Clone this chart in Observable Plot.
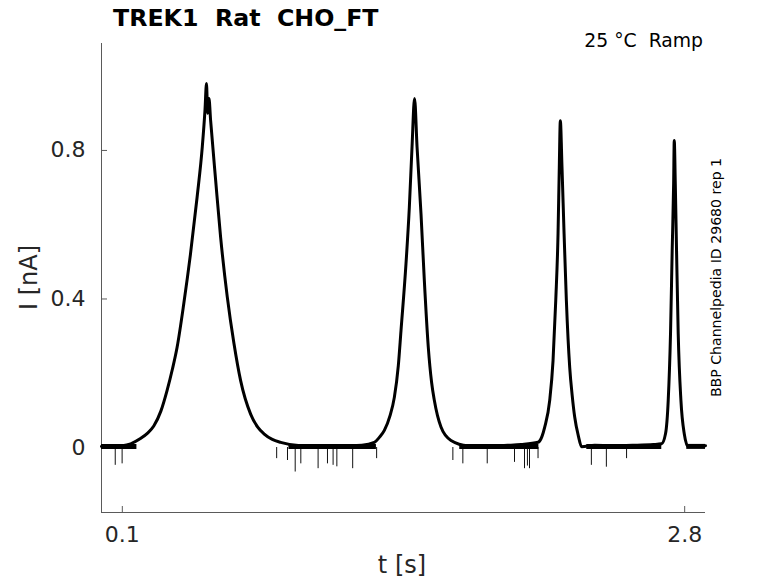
<!DOCTYPE html>
<html>
<head>
<meta charset="utf-8">
<script src="https://cdn.jsdelivr.net/npm/d3@7"></script>
<script src="https://cdn.jsdelivr.net/npm/@observablehq/plot@0.6"></script>
<style>
  html, body { margin: 0; padding: 0; background: #fff; }
  #chart { width: 778px; height: 583px; }
</style>
</head>
<body>
<div id="chart"></div>
<script>
// Trace: time [s] and current [nA]
const timeS = [
  0.00, 0.05, 0.09, 0.14, 0.187, 0.22, 0.251, 0.285, 0.315, 0.34, 0.363, 0.395, 0.427, 0.459, 0.484, 0.497, 0.504, 0.510, 0.516, 0.524,
  0.548, 0.572, 0.604, 0.636, 0.668, 0.716, 0.75, 0.78, 0.82, 0.86, 0.956, 1.05, 1.15, 1.25,
  1.31, 1.335, 1.358, 1.385, 1.406, 1.425, 1.438, 1.462, 1.478, 1.491, 1.503, 1.515, 1.534, 1.55, 1.569, 1.585, 1.598, 1.63, 1.678, 1.759,
  1.85, 1.95, 2.015, 2.096, 2.115, 2.128, 2.152, 2.168, 2.181, 2.192, 2.198, 2.203, 2.211, 2.221, 2.232, 2.248, 2.26, 2.272, 2.29, 2.305,
  2.368, 2.45, 2.55, 2.65, 2.689, 2.708, 2.721, 2.732, 2.74, 2.747, 2.75, 2.755, 2.761, 2.769, 2.782, 2.798, 2.817, 2.86, 2.9
];
const currentNA = [
  0.003, 0.002, 0.004, 0.010, 0.024, 0.038, 0.058, 0.098, 0.154, 0.21, 0.27, 0.387, 0.52, 0.674, 0.81, 0.91, 0.98, 0.90, 0.94, 0.88,
  0.72, 0.566, 0.405, 0.28, 0.18, 0.09, 0.055, 0.037, 0.022, 0.014, 0.005, 0.004, 0.004, 0.006,
  0.014, 0.028, 0.046, 0.085, 0.135, 0.22, 0.315, 0.495, 0.647, 0.81, 0.94, 0.81, 0.63, 0.45, 0.27, 0.175, 0.127, 0.055, 0.019, 0.005,
  0.004, 0.006, 0.008, 0.014, 0.03, 0.055, 0.127, 0.234, 0.396, 0.576, 0.755, 0.88, 0.755, 0.576, 0.396, 0.216, 0.14, 0.082, 0.03, 0.002,
  0.006, 0.005, 0.006, 0.008, 0.010, 0.037, 0.127, 0.306, 0.53, 0.71, 0.827, 0.71, 0.53, 0.306, 0.127, 0.037, 0.002, 0.004, 0.005
];
// Downward noise spikes on the baseline
const spikeT = [0.066, 0.099, 0.841, 0.893, 0.93, 0.957, 1.04, 1.085, 1.112, 1.13, 1.206, 1.321, 1.687, 1.735, 1.852, 1.983, 2.031, 2.045, 2.055, 2.096, 2.352, 2.424, 2.521];
const spikeI = [-0.048, -0.044, -0.03, -0.035, -0.066, -0.044, -0.057, -0.044, -0.048, -0.052, -0.057, -0.03, -0.035, -0.044, -0.044, -0.04, -0.057, -0.05, -0.057, -0.03, -0.048, -0.053, -0.03];
// Baseline noise band segments
const bandStart = [0.00, 0.90, 1.72, 2.33, 2.81];
const bandEnd   = [0.17, 1.32, 2.10, 2.69, 2.90];

const xTicks = [0.1, 2.8];
const yTicks = [0, 0.4, 0.8];
const xDomain = [0, 2.9];
const yDomain = [-0.175, 1.088];

const W = 778, H = 583, mT = 43, mR = 73, mB = 71, mL = 101;
const tickPx = 6;
const tickLenX = (xDomain[1] - xDomain[0]) * tickPx / (W - mL - mR);
const tickLenY = (yDomain[1] - yDomain[0]) * tickPx / (H - mT - mB);

const trace = timeS.map((t, i) => ({t, i: currentNA[i]}));
const spikes = spikeT.map((t, i) => ({t, i: spikeI[i]}));
const bands = bandStart.map((s, k) => ({s, e: bandEnd[k]}));

const axisColor = "#5a5a5a";
const textColor = "#262626";

const plot = Plot.plot({
  width: W,
  height: H,
  marginTop: mT,
  marginRight: mR,
  marginBottom: mB,
  marginLeft: mL,
  style: {fontFamily: "DejaVu Sans", background: "#fff", overflow: "visible"},
  x: {domain: xDomain},
  y: {domain: yDomain},
  marks: [
    Plot.ruleX([xDomain[0]], {stroke: axisColor, strokeWidth: 1}),
    Plot.ruleY([yDomain[0]], {stroke: axisColor, strokeWidth: 1}),
    Plot.axisY({ticks: yTicks, tickSize: 0, tickPadding: 16, fontSize: 22, fill: textColor, tickFormat: d => String(d), label: null}),
    Plot.ruleY(yTicks, {x1: xDomain[0], x2: xDomain[0] + tickLenX, stroke: axisColor}),
    Plot.axisX({ticks: xTicks, tickSize: 0, tickPadding: 14, fontSize: 22, fill: textColor, tickFormat: d => String(d), label: null}),
    Plot.ruleX(xTicks, {y1: yDomain[0], y2: yDomain[0] + tickLenY, stroke: axisColor}),
    Plot.ruleX(spikes, {x: "t", y1: 0, y2: "i", stroke: "#111", strokeWidth: 1}),
    Plot.ruleY(bands, {x1: "s", x2: "e", y: 0.003, stroke: "#000", strokeWidth: 5}),
    Plot.line(trace, {x: "t", y: "i", stroke: "#000", strokeWidth: 3, strokeLinejoin: "round", curve: "monotone-x"})
  ]
});

document.getElementById("chart").appendChild(plot);

// Annotations
const svg = d3.select(plot);
svg.append("text")
  .attr("x", 113).attr("y", 26).attr("text-anchor", "start")
  .attr("font-family", "DejaVu Sans").attr("font-weight", "bold").attr("font-size", 23.7)
  .attr("fill", "#000").style("white-space", "pre")
  .text("TREK1  Rat  CHO_FT");
svg.append("text")
  .attr("x", 703).attr("y", 47).attr("text-anchor", "end")
  .attr("font-family", "DejaVu Sans").attr("font-size", 18.8)
  .attr("fill", "#000").style("white-space", "pre")
  .text("25 °C  Ramp");
svg.append("text")
  .attr("transform", "translate(721,277.5) rotate(-90)").attr("text-anchor", "middle")
  .attr("font-family", "DejaVu Sans").attr("font-size", 14.1)
  .attr("fill", "#000")
  .text("BBP Channelpedia ID 29680 rep 1");
svg.append("text")
  .attr("transform", "translate(37,277.5) rotate(-90)").attr("text-anchor", "middle")
  .attr("font-family", "DejaVu Sans").attr("font-size", 24)
  .attr("fill", textColor)
  .text("I [nA]");
svg.append("text")
  .attr("x", 402).attr("y", 573).attr("text-anchor", "middle")
  .attr("font-family", "DejaVu Sans").attr("font-size", 24)
  .attr("fill", textColor)
  .text("t [s]");
</script>
</body>
</html>
